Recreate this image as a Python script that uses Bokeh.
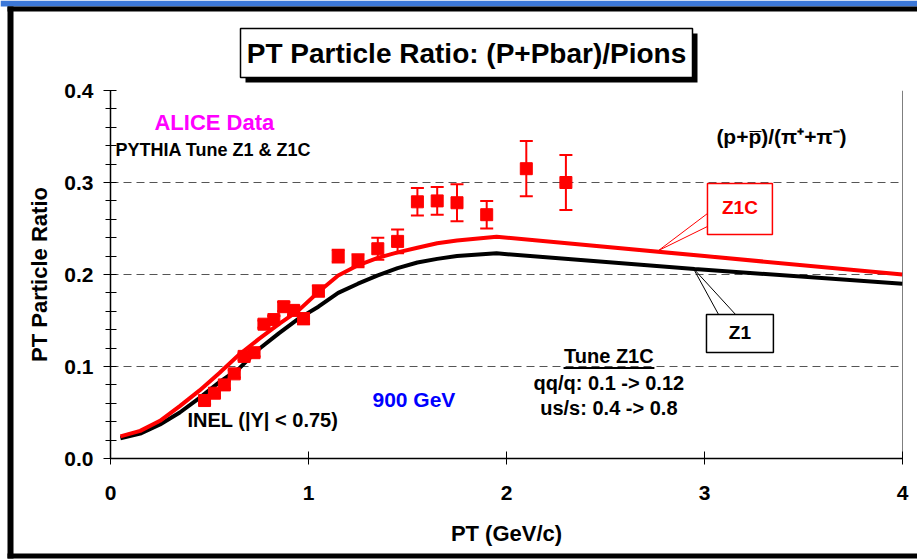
from bokeh.plotting import figure
from bokeh.models import (Range1d, FixedTicker, Label, BoxAnnotation, Whisker,
                          TeeHead, ColumnDataSource, Span, PrintfTickFormatter)
from bokeh.core.properties import value
from bokeh.embed import file_html
from bokeh.resources import INLINE

# ---------------- data ----------------
pt = [0.475, 0.525, 0.575, 0.625, 0.675, 0.725, 0.775, 0.825, 0.875, 0.925, 0.975,
      1.05, 1.15, 1.25, 1.35, 1.45, 1.55, 1.65, 1.75, 1.90, 2.10, 2.30]
ratio = [0.063, 0.071, 0.080, 0.092, 0.111, 0.115, 0.146, 0.151, 0.165, 0.161, 0.152,
         0.182, 0.220, 0.215, 0.228, 0.236, 0.279, 0.280, 0.278, 0.265, 0.315, 0.300]
ratio_err = [0.004, 0.004, 0.004, 0.004, 0.004, 0.004, 0.004, 0.004, 0.005, 0.005, 0.006,
             0.006, 0.007, 0.007, 0.012, 0.013, 0.015, 0.015, 0.020, 0.015, 0.030, 0.030]

z1c_pt = [0.05, 0.15, 0.25, 0.35, 0.45, 0.55, 0.65, 0.75, 0.85, 0.95, 1.05, 1.15,
          1.25, 1.35, 1.45, 1.55, 1.65, 1.75, 1.95, 3.0, 4.0]
z1c_ratio = [0.024, 0.030, 0.041, 0.057, 0.074, 0.093, 0.113, 0.130, 0.146, 0.161, 0.181, 0.199,
             0.210, 0.218, 0.224, 0.229, 0.234, 0.237, 0.241, 0.220, 0.200]

z1_pt = [0.05, 0.15, 0.25, 0.35, 0.45, 0.55, 0.65, 0.75, 0.85, 0.95, 1.05, 1.15,
         1.25, 1.35, 1.45, 1.55, 1.65, 1.75, 1.95, 2.95, 4.0]
z1_ratio = [0.022, 0.027, 0.037, 0.050, 0.066, 0.083, 0.098, 0.119, 0.136, 0.152, 0.165, 0.180,
            0.190, 0.199, 0.207, 0.213, 0.217, 0.220, 0.223, 0.206, 0.190]

x_ticks = [0, 1, 2, 3, 4]
y_ticks = [0.0, 0.1, 0.2, 0.3, 0.4]
y_minor = [0.02, 0.04, 0.06, 0.08, 0.12, 0.14, 0.16, 0.18, 0.22, 0.24, 0.26, 0.28,
           0.32, 0.34, 0.36, 0.38]
grid_lines = [0.1, 0.2, 0.3, 0.4]

title_text = "PT Particle Ratio: (P+Pbar)/Pions"

FONT = "Liberation Sans"
W, H = 917, 560

# ---------------- background "slide" figure (pixel coordinates) ----------------
bg = figure(width=W, height=H, output_backend="svg", toolbar_location=None,
            x_range=Range1d(0, W), y_range=Range1d(H, 0),
            x_axis_location=None, y_axis_location=None, min_border=0,
            background_fill_color="white", border_fill_color="white",
            outline_line_color=None)
bg.grid.visible = False
# blue strip at the very top
bg.quad(left=[0], right=[W], top=[0], bottom=[6], fill_color="#3c78d8", line_color=None)
# black slide frame
bg.quad(left=[7, 7, 7], right=[W, 13, W], top=[6, 6, 553], bottom=[11, 558, 558],
        fill_color="black", line_color=None)
# title box with drop shadow
bg.quad(left=[245], right=[697], top=[33], bottom=[82], fill_color="black", line_color=None)
bg.quad(left=[240], right=[692], top=[28], bottom=[77], fill_color="white",
        line_color="black", line_width=1.5)
bg.text(x=[466], y=[53], text=[title_text], text_font=value(FONT),
        text_font_style="bold", text_font_size="28px", text_align="center",
        text_baseline="middle", text_color="black")

# ---------------- chart figure ----------------
p = figure(width=W, height=H, output_backend="svg", toolbar_location=None,
           x_range=Range1d(0, 4), y_range=Range1d(0, 0.4),
           min_border_left=110, min_border_right=15, min_border_top=90, min_border_bottom=102,
           background_fill_alpha=0, border_fill_alpha=0,
           outline_line_color=None)
p.styles = {"margin-top": f"-{H}px"}

p.xgrid.visible = False
p.ygrid.ticker = FixedTicker(ticks=grid_lines)
p.ygrid.grid_line_color = "#555555"
p.ygrid.grid_line_dash = "8 5"
p.ygrid.grid_line_width = 1

p.xaxis.ticker = FixedTicker(ticks=x_ticks, minor_ticks=[])
p.yaxis.ticker = FixedTicker(ticks=y_ticks, minor_ticks=y_minor)
p.yaxis.formatter = PrintfTickFormatter(format="%.1f")

for ax in (p.xaxis[0], p.yaxis[0]):
    ax.axis_line_color = "black"
    ax.axis_line_width = 1.5
    ax.major_tick_line_color = "black"
    ax.minor_tick_line_color = "black"
    ax.major_label_text_font = FONT
    ax.major_label_text_font_style = "bold"
    ax.major_label_text_font_size = "21px"
    ax.major_label_text_color = "black"
    ax.axis_label_text_font = FONT
    ax.axis_label_text_font_style = "bold"
    ax.axis_label_text_font_size = "22px"
    ax.axis_label_text_color = "black"

p.xaxis.major_tick_in = 7
p.xaxis.major_tick_out = 6
p.xaxis.major_label_standoff = 21
p.xaxis.axis_label = "PT (GeV/c)"
p.xaxis.axis_label_standoff = 18

p.yaxis.major_tick_in = 6
p.yaxis.major_tick_out = 7
p.yaxis.minor_tick_in = 6
p.yaxis.minor_tick_out = 5
p.yaxis.major_label_standoff = 10
p.yaxis.axis_label = "PT Particle Ratio"
p.yaxis.axis_label_standoff = 9

p.add_layout(Span(location=4, dimension="height", line_color="black", line_width=1))

# ---------------- curves ----------------
p.line(z1_pt, z1_ratio, line_color="black", line_width=4)
p.line(z1c_pt, z1c_ratio, line_color="#ff0000", line_width=4)

# ---------------- data with error bars ----------------
src = ColumnDataSource(dict(
    x=pt, y=ratio,
    upper=[v + e for v, e in zip(ratio, ratio_err)],
    lower=[v - e for v, e in zip(ratio, ratio_err)],
))
p.add_layout(Whisker(source=src, base="x", upper="upper", lower="lower",
                     line_color="#ff0000", line_width=2, level="glyph",
                     upper_head=TeeHead(size=13, line_color="#ff0000", line_width=2),
                     lower_head=TeeHead(size=13, line_color="#ff0000", line_width=2)))
p.scatter("x", "y", source=src, marker="square", size=12,
          fill_color="#ff0000", line_color="#ff0000")

# ---------------- callouts ----------------
p.segment(x0=[3.015, 3.015], y0=[0.2663, 0.2522], x1=[2.768, 2.768], y1=[0.2261, 0.2261],
          line_color="#ff0000", line_width=1)
p.add_layout(BoxAnnotation(left=3.015, right=3.343, bottom=0.2435, top=0.299,
                           fill_color="white", fill_alpha=1, line_color="#ff0000",
                           line_alpha=1, line_width=1.5))
p.segment(x0=[3.071, 3.157], y0=[0.1565, 0.1565], x1=[2.944, 2.944], y1=[0.2065, 0.2065],
          line_color="black", line_width=1)
p.add_layout(BoxAnnotation(left=3.01, right=3.348, bottom=0.1152, top=0.1565,
                           fill_color="white", fill_alpha=1, line_color="black",
                           line_alpha=1, line_width=1.5))

DY = 0.008  # baseline correction for the SVG text placement

def lab(x, y, text, size, color="black", align="left"):
    p.add_layout(Label(x=x, y=y + DY, text=text, text_font=FONT, text_font_style="bold",
                       text_font_size=size, text_color=color, text_align=align,
                       text_baseline="alphabetic"))

lab(3.179, 0.265, "Z1C", "19px", "#ff0000", "center")
lab(3.179, 0.129, "Z1", "19px", "black", "center")
lab(0.222, 0.3576, "ALICE Data", "22px", "#ff00ff")
lab(0.025, 0.327, "PYTHIA Tune Z1 & Z1C", "18px")
lab(3.06, 0.342, "(p+p\u0305)/(\u03c0\u207a+\u03c0\u207b)", "21px")
lab(0.389, 0.0337, "INEL (|Y| < 0.75)", "20px")
lab(1.323, 0.0565, "900 GeV", "21px", "#0000ff")
lab(2.517, 0.103, "Tune Z1C", "20px", "black", "center")
p.segment(x0=[2.288], y0=[0.0984], x1=[2.747], y1=[0.0984], line_color="black", line_width=2)
lab(2.517, 0.0739, "qq/q: 0.1 -> 0.12", "20px", "black", "center")
lab(2.517, 0.0467, "us/s: 0.4 -> 0.8", "20px", "black", "center")

open("out.html", "w").write(file_html([bg, p], INLINE))
